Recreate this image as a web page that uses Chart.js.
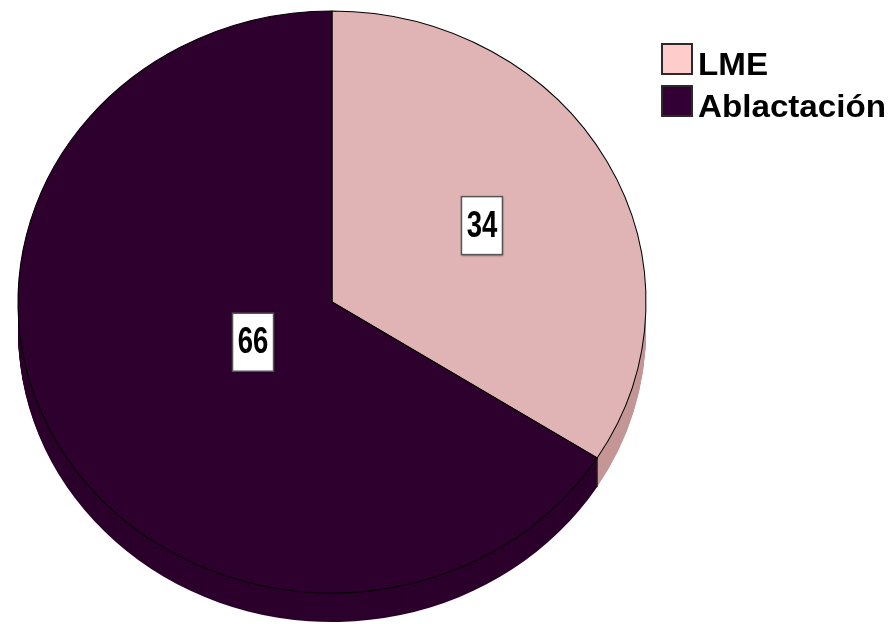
<!DOCTYPE html>
<html>
<head>
<meta charset="utf-8">
<script src="https://cdn.jsdelivr.net/npm/chart.js@4.4.1/dist/chart.umd.min.js"></script>
<style>
  html, body { margin: 0; padding: 0; background: #ffffff; }
  #wrap { width: 892px; height: 624px; position: relative; }
</style>
</head>
<body>
<div id="wrap"><canvas id="c" width="892" height="624"></canvas></div>
<script>
// ---- data ----
const categories = ['LME', 'Ablactación'];
const values = [34, 66];
const valueLabels = ['34', '66'];

// ---- styles ----
const faceColors = ['#E0B4B4', '#2E002E'];
const sideColors = ['#C49696', '#2C002C'];
const legendColors = ['#FFCCCC', '#330033'];

// geometry of the tilted pie (pixels on the page)
const PIE = { cx: 332, cy: 302, rx: 314, ry: 291, depth: 29 };
const LABEL_FRAC = [0.545, 0.287];

function applyPieTransform(ctx, el, dy) {
  const R = el.outerRadius;
  ctx.translate(PIE.cx, PIE.cy + (dy || 0));
  ctx.scale(PIE.rx / R, PIE.ry / R);
  ctx.translate(-el.x, -el.y);
}

const pie3d = {
  id: 'pie3d',
  beforeDatasetsDraw(chart) {
    const ctx = chart.ctx;
    const meta = chart.getDatasetMeta(0);
    // side (extrusion)
    for (let k = PIE.depth; k >= 1; k--) {
      meta.data.forEach((el, i) => {
        ctx.save();
        applyPieTransform(ctx, el, k);
        ctx.beginPath();
        ctx.moveTo(el.x, el.y);
        ctx.arc(el.x, el.y, el.outerRadius, el.startAngle, el.endAngle);
        ctx.closePath();
        ctx.fillStyle = sideColors[i];
        ctx.fill();
        ctx.restore();
      });
    }
    // vertical edge at the slice boundary on the side
    const b = meta.data[0];
    const R = b.outerRadius;
    const X = PIE.cx + Math.cos(b.endAngle) * PIE.rx;
    const Y = PIE.cy + Math.sin(b.endAngle) * PIE.ry;
    ctx.beginPath();
    ctx.moveTo(X, Y);
    ctx.lineTo(X, Y + PIE.depth);
    ctx.strokeStyle = '#111';
    ctx.lineWidth = 1.2;
    ctx.stroke();
    // transform for the top faces drawn by Chart.js
    ctx.save();
    applyPieTransform(ctx, b, 0);
  },
  afterDatasetsDraw(chart) {
    const ctx = chart.ctx;
    ctx.restore();
    const meta = chart.getDatasetMeta(0);
    meta.data.forEach((el, i) => {
      const mid = (el.startAngle + el.endAngle) / 2;
      const f = LABEL_FRAC[i];
      const X = PIE.cx + Math.cos(mid) * f * PIE.rx;
      const Y = PIE.cy + Math.sin(mid) * f * PIE.ry;
      const w = 41, h = 58;
      ctx.save();
      ctx.shadowColor = 'rgba(0,0,0,0.35)';
      ctx.shadowBlur = 2;
      ctx.shadowOffsetX = 1;
      ctx.shadowOffsetY = 1;
      ctx.fillStyle = '#ffffff';
      ctx.fillRect(X - w / 2, Y - h / 2, w, h);
      ctx.restore();
      ctx.strokeStyle = '#555';
      ctx.lineWidth = 1.5;
      ctx.strokeRect(X - w / 2, Y - h / 2, w, h);
      ctx.save();
      ctx.translate(X, Y + 1);
      ctx.scale(1.06, 1.42);
      ctx.font = 'bold 26px "Liberation Sans", Arial, sans-serif';
      ctx.fillStyle = '#000';
      ctx.textAlign = 'center';
      ctx.textBaseline = 'middle';
      ctx.fillText(valueLabels[i], 0, 0);
      ctx.restore();
    });
  },
  afterDraw(chart) {
    const ctx = chart.ctx;
    categories.forEach((name, i) => {
      const bx = 662, by = 44 + i * 42, s = 30;
      ctx.fillStyle = legendColors[i];
      ctx.fillRect(bx, by, s, s);
      ctx.strokeStyle = '#2a2a2a';
      ctx.lineWidth = 2;
      ctx.strokeRect(bx, by, s, s);
      ctx.save();
      ctx.translate(698, by + 31);
      ctx.scale(1.07, 1);
      ctx.font = 'bold 31px "Liberation Sans", Arial, sans-serif';
      ctx.fillStyle = '#000';
      ctx.textAlign = 'left';
      ctx.textBaseline = 'alphabetic';
      ctx.fillText(name, 0, 0);
      ctx.restore();
    });
  }
};

new Chart(document.getElementById('c'), {
  type: 'pie',
  data: {
    labels: categories,
    datasets: [{
      data: values,
      backgroundColor: faceColors,
      borderColor: '#000000',
      borderWidth: 1
    }]
  },
  options: {
    responsive: false,
    animation: false,
    layout: { padding: { left: 10, right: 250, top: 0, bottom: 0 } },
    plugins: {
      legend: { display: false },
      tooltip: { enabled: false }
    }
  },
  plugins: [pie3d]
});
</script>
</body>
</html>
